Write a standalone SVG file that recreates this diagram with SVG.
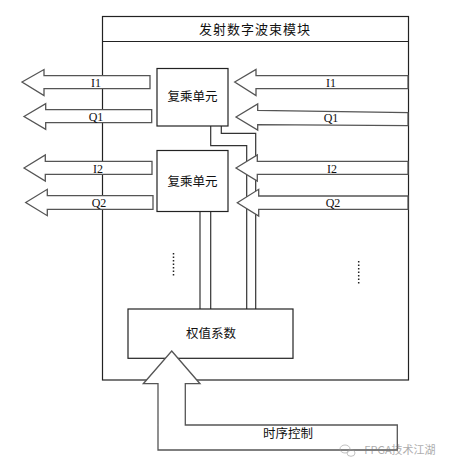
<svg xmlns="http://www.w3.org/2000/svg" width="452" height="465" viewBox="0 0 452 465">
<style>
.box{fill:#fff;stroke:#222;stroke-width:1.2}
.arr{fill:#fff;stroke:#555;stroke-width:1.3;stroke-linejoin:miter}
.wire{fill:none;stroke:#333;stroke-width:1.2}
.lab{font-family:"Liberation Serif",serif;font-size:12px;fill:#111;text-anchor:middle}
.cn{font-family:"Noto Sans CJK SC",sans-serif;font-size:12.5px;fill:#111;text-anchor:middle}
.dots{stroke:#222;stroke-width:1.5;stroke-dasharray:1.5 2}
</style>
<rect width="452" height="465" fill="#fff"/>
<g id="module">
<rect class="box" x="102.5" y="16.5" width="306" height="363.5"/>
<line class="box" x1="102.5" y1="41.5" x2="408.5" y2="41.5"/>
<text class="cn" x="255" y="34" style="font-size:13px;letter-spacing:1px">发射数字波束模块</text>
</g>
<g id="connectors">
<polyline class="wire" points="210.7,126 210.7,145.7 246.7,145.7 246.7,309"/>
<polyline class="wire" points="221.3,126 221.3,133.3 255.7,133.3 255.7,309"/>
<line class="wire" x1="200" y1="211" x2="200" y2="309"/>
<line class="wire" x1="210.7" y1="211" x2="210.7" y2="309"/>
<line class="dots" x1="173.5" y1="253" x2="173.5" y2="276"/>
<line class="dots" x1="358.7" y1="261" x2="358.7" y2="284"/>
</g>
<g id="unit1">
<rect class="box" x="157" y="68.5" width="71" height="57.5"/>
<text class="cn" x="192.5" y="101">复乘单元</text>
</g>
<g id="unit2">
<rect class="box" x="157" y="150.5" width="71" height="61"/>
<text class="cn" x="192.5" y="186">复乘单元</text>
</g>
<g id="out-I1">
<polygon class="arr" points="22,82 44,69.5 44,75.7 150,75.7 150,88.7 44,88.7 44,95.5"/>
<text class="lab" x="96" y="86.5">I1</text>
</g>
<g id="out-Q1">
<polygon class="arr" points="24,116.5 45.7,103.7 45.7,109.7 151.7,109.7 151.7,122.7 45.7,122.7 45.7,129.3"/>
<text class="lab" x="96" y="120.5">Q1</text>
</g>
<g id="out-I2">
<polygon class="arr" points="24,168 45.3,155 45.3,161.3 152,161.3 152,174.3 45.3,174.3 45.3,181"/>
<text class="lab" x="98" y="172.5">I2</text>
</g>
<g id="out-Q2">
<polygon class="arr" points="25.7,202.5 47.3,189.3 47.3,195.7 153,195.7 153,209.3 47.3,209.3 47.3,215.7"/>
<text class="lab" x="99" y="207">Q2</text>
</g>
<g id="in-I1">
<polygon class="arr" points="234.7,82 256,69.5 256,75.7 408,75.7 408,88.7 256,88.7 256,95.5"/>
<text class="lab" x="331" y="86.5">I1</text>
</g>
<g id="in-Q1">
<polygon class="arr" points="236,117 257.7,104 257.7,110.3 408,112.7 408,125.7 257.7,124.7 257.7,130"/>
<text class="lab" x="331" y="121.5">Q1</text>
</g>
<g id="in-I2">
<polygon class="arr" points="236,168 257.3,155 257.3,161.3 408,161.3 408,174.3 257.3,174.3 257.3,181"/>
<text class="lab" x="332" y="172.5">I2</text>
</g>
<g id="in-Q2">
<polygon class="arr" points="237.3,202.7 258.7,189.3 258.7,196 408,196 408,209.3 258.7,209.3 258.7,216"/>
<text class="lab" x="333" y="207">Q2</text>
</g>
<g id="weights">
<rect class="box" x="128" y="309" width="165" height="49.3"/>
<text class="cn" x="211" y="338">权值系数</text>
</g>
<g id="timing">
<polygon class="arr" points="171.7,351 200,383.7 185.3,383.7 185.3,425 397.3,425 397.3,450 158,450 158,383.7 143.3,383.7"/>
<text class="cn" x="288" y="438">时序控制</text>
</g>
<g id="watermark" opacity="0.6">
<ellipse cx="345" cy="449" rx="5" ry="4" fill="none" stroke="#999" stroke-width="1"/>
<ellipse cx="351" cy="453" rx="4" ry="3.3" fill="none" stroke="#999" stroke-width="1"/>
<text x="400" y="454" style="font-family:'Noto Sans CJK SC',sans-serif;font-size:11px;fill:#777;text-anchor:middle">FPGA技术江湖</text>
</g>
</svg>
